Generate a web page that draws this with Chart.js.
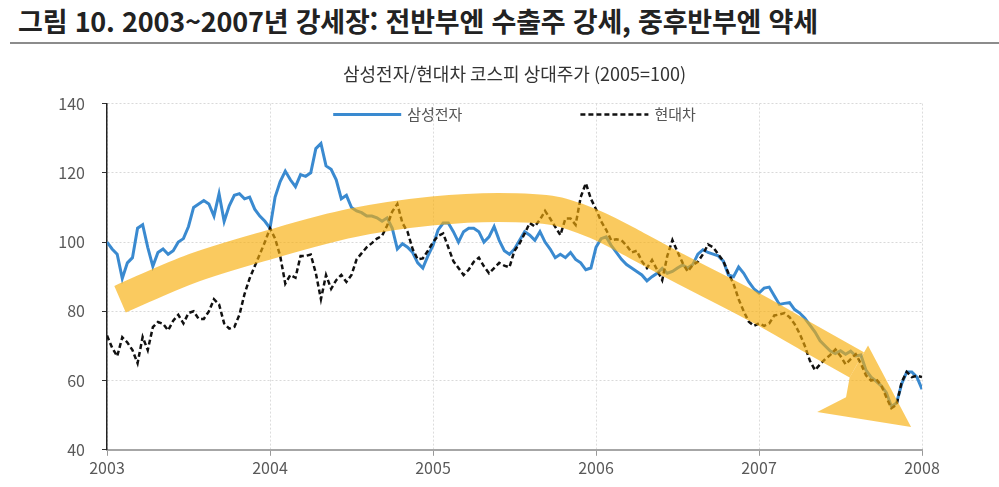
<!DOCTYPE html>
<html lang="ko">
<head>
<meta charset="utf-8">
<title>삼성전자/현대차 코스피 상대주가</title>
<script src="https://cdn.jsdelivr.net/npm/chart.js@4.4.1/dist/chart.umd.min.js"></script>
<style>
  body { margin: 0; background: #fff; font-family: "Noto Sans CJK KR", "Noto Sans", sans-serif; }
  #head { position: absolute; left: 18px; top: 1px; font-size: 27px; font-weight: bold; color: #222; letter-spacing: -0.2px; white-space: nowrap; }
  #rule { position: absolute; left: 10px; right: 0; top: 42px; height: 2px; background: #8c8c8c; }
  #wrap { position: absolute; left: 0; top: 50px; width: 999px; height: 437px; }
</style>
</head>
<body>
<div id="head">그림 10. 2003~2007년 강세장: 전반부엔 수출주 강세, 중후반부엔 약세</div>
<div id="rule"></div>
<div id="wrap"><canvas id="relChart"></canvas></div>
<script>
// relative price vs KOSPI, 2005 = 100, sampled 32 times a year from 2003 to 2008
const samsung = [
  100, 98, 96.5, 89.5, 94, 95.5, 104, 105, 98.5, 93, 97, 98, 96.5, 97.5, 100, 101,
  104.5, 110, 111, 112, 111, 107.5, 114, 106, 110.5, 113.5, 114, 112.5, 113, 109.5, 107.5, 106,
  104, 113, 117.5, 120.5, 118, 116, 119.5, 119, 120, 127, 128.5, 122, 121, 118, 112.5, 113.5,
  110, 109, 108.5, 107.5, 107.5, 107, 106, 107, 104, 98, 99.5, 98.5, 97, 94, 92.5, 96,
  99, 103.5, 105.5, 105.5, 103, 100, 103, 104, 104, 103, 100, 101.5, 104.5, 100.5, 97.5, 96.5,
  98, 100.5, 103, 102, 100.5, 103, 100, 98, 95.5, 96.5, 95.5, 97, 95, 94, 92, 92.5,
  98.5, 101, 101.5, 99, 97, 95, 93.5, 92.5, 91.5, 90.5, 88.8, 90, 91, 92.4, 91, 91.5,
  92.5, 93.4, 92.5, 93.5, 96.5, 97.8, 97, 96.5, 96, 94.5, 90.5, 90, 92.8, 91, 88.5, 86.5,
  85.3, 86.7, 87, 84.5, 82, 82.3, 82.5, 80.5, 79.5, 78, 76, 74, 71.5, 70, 68.5, 67.8,
  68.6, 67.6, 68.5, 67.1, 67.4, 63, 61, 59.8, 58.5, 56.5, 52.5, 53.5, 59, 62.5, 62.5, 61,
  57.5
];
const hyundai = [
  73, 69.5, 67, 72.5, 71, 68.8, 65, 72.6, 68.8, 75.4, 76.9, 76.4, 74.5, 77.3, 79, 76.5,
  79.5, 80, 77.8, 77.8, 80, 83.5, 82, 76.5, 75, 75.5, 79, 85, 89.5, 93, 96.5, 100,
  104, 101, 96, 88, 90.5, 89.7, 96, 96, 96.4, 91, 83.5, 90.5, 86.5, 89, 90.5, 88.5,
  90.5, 95, 96.8, 98.5, 99.7, 101, 101.8, 104.8, 108.8, 111, 105.5, 103, 98, 95, 95.3, 97.5,
  100, 101.8, 102.5, 98.5, 94.5, 92.5, 90.5, 92, 94.3, 95.5, 93, 91, 92.5, 94, 93.2, 92.7,
  97.5, 99.6, 102.5, 105.5, 104.5, 106.5, 109, 106.8, 104.4, 102, 106.8, 106.8, 105, 113, 117, 112.5,
  109.5, 106, 103.5, 100.5, 100.8, 100.5, 99, 97, 97.5, 94.5, 92.5, 94.8, 92, 89, 96, 100.6,
  97.2, 94, 91.5, 93.4, 94.3, 96.5, 99.3, 98.5, 96.5, 94.5, 91, 88, 83.5, 80, 77, 75.8,
  76.5, 75.8, 76.5, 78.8, 79.1, 79.5, 78.3, 76.3, 73.5, 70, 65.7, 63, 64.7, 66.2, 67.4, 69,
  67.1, 64.7, 66.2, 67.6, 64.9, 61.5, 60, 60.4, 58.6, 55.2, 52, 53, 59.5, 62.5, 61, 61.4,
  61
];
const dates = samsung.map((v, i) => 2003 + i / 32);

// the yellow trend arrow drawn over the lines
const arrowX = [2003.08, 2003.5, 2004.0, 2004.5, 2005.0, 2005.4, 2005.75, 2006.0, 2006.25, 2006.5, 2007.0, 2007.3, 2007.6];
const arrowY = [83.5, 92, 99.3, 105.5, 109, 110, 109, 105, 99, 92.7, 80.5, 72.5, 64.5];
const headX = [2007.644, 2007.669, 2007.933, 2007.357, 2007.534, 2007.556, 2007.644];
const headY = [68.1, 70.1, 46.6, 50.9, 55.2, 60.9, 68.1];

const yTicks = [40, 60, 80, 100, 120, 140];

const pts = (xs, ys) => xs.map((x, i) => ({ x: x, y: ys[i] }));
const arrowColor = "rgba(247, 173, 9, 0.65)";
const font = "'Noto Sans CJK KR', 'Noto Sans', sans-serif";

// legend drawn inside the plot, line samples as in the source
const lineLegend = {
  id: "lineLegend",
  afterDraw(chart) {
    const { ctx, chartArea } = chart;
    const items = chart.data.datasets.filter(d => d.inLegend);
    const sample = 68, gap = 6, between = 118;
    ctx.save();
    ctx.font = "15px " + font;
    const widths = items.map(d => sample + gap + ctx.measureText(d.label).width);
    const total = widths.reduce((a, b) => a + b, 0) + between * (items.length - 1);
    let x = (chartArea.left + chartArea.right) / 2 - total / 2;
    const y = chartArea.top + 11;
    items.forEach((d, i) => {
      ctx.beginPath();
      ctx.strokeStyle = d.borderColor;
      ctx.lineWidth = d.borderWidth;
      ctx.setLineDash(d.borderDash || []);
      ctx.moveTo(x, y);
      ctx.lineTo(x + sample, y);
      ctx.stroke();
      ctx.setLineDash([]);
      ctx.fillStyle = "#555";
      ctx.textBaseline = "middle";
      ctx.fillText(d.label, x + sample + gap, y);
      x += widths[i] + between;
    });
    ctx.restore();
  }
};

new Chart("relChart", {
  type: "line",
  data: {
    datasets: [
      {
        label: "삼성전자",
        data: pts(dates, samsung),
        borderColor: "#3a8ad0",
        borderWidth: 3,
        pointRadius: 0,
        tension: 0,
        inLegend: true,
        order: 2
      },
      {
        label: "현대차",
        data: pts(dates, hyundai),
        borderColor: "#111",
        borderWidth: 2.5,
        borderDash: [5, 3],
        pointRadius: 0,
        tension: 0,
        inLegend: true,
        order: 1
      },
      {
        label: "trend",
        data: pts(arrowX, arrowY),
        borderColor: arrowColor,
        borderWidth: 29,
        borderCapStyle: "butt",
        cubicInterpolationMode: "monotone",
        pointRadius: 0,
        order: 0
      },
      {
        label: "head",
        data: pts(headX, headY),
        borderWidth: 0,
        backgroundColor: arrowColor,
        fill: "shape",
        pointRadius: 0,
        tension: 0,
        order: 0
      }
    ]
  },
  options: {
    responsive: true,
    maintainAspectRatio: false,
    animation: false,
    layout: { padding: { left: 0, right: 77, top: 0, bottom: 6 } },
    plugins: {
      legend: { display: false },
      tooltip: { enabled: false },
      title: {
        display: true,
        fullSize: false,
        text: "삼성전자/현대차 코스피 상대주가 (2005=100)",
        color: "#333",
        font: { family: font, size: 18, weight: "normal" },
        padding: { top: 13, bottom: 19 }
      }
    },
    scales: {
      x: {
        type: "linear",
        min: 2003,
        max: 2008,
        ticks: {
          stepSize: 1,
          padding: 3,
          color: "#595959",
          font: { family: font, size: 16 },
          callback: v => String(v)
        },
        grid: { color: "#dcdcdc", lineWidth: 1, tickColor: "#999", tickLength: 6 },
        border: { color: "#a6a6a6", width: 2, dash: [2, 2] }
      },
      y: {
        min: 40,
        max: 140,
        afterBuildTicks: s => { s.ticks = yTicks.map(v => ({ value: v })); },
        afterFit: s => { s.width = 107; },
        ticks: {
          padding: 17,
          color: "#595959",
          font: { family: font, size: 16 }
        },
        grid: { color: "#d9d9d9", lineWidth: 1, tickColor: "#333", tickLength: 5 },
        border: { color: "#222", width: 1.5, dash: [2, 2] }
      }
    }
  },
  plugins: [lineLegend]
});
</script>
</body>
</html>
